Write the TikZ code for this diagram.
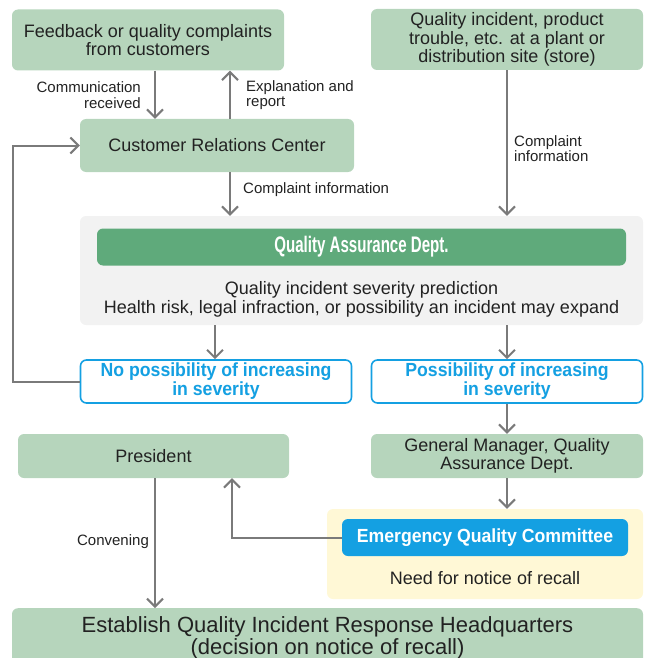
\documentclass[tikz,border=0pt]{standalone}
\usepackage{fontspec}
\setmainfont{Liberation Sans}
\newfontfamily\condfont[FakeStretch=0.67]{Liberation Sans}
\newfontfamily\semicond[FakeStretch=0.93]{Liberation Sans}
\usetikzlibrary{arrows.meta}
\definecolor{lgreen}{HTML}{B6D5BC}
\definecolor{dgreen}{HTML}{5FAA7B}
\definecolor{panelgray}{HTML}{F2F2F2}
\definecolor{qblue}{HTML}{14A0E2}
\definecolor{pyellow}{HTML}{FFF8D6}
\definecolor{arrgray}{HTML}{7A7A7A}
\definecolor{txt}{HTML}{222222}
\tikzset{
  gbox/.style={fill=lgreen, rounded corners=6pt, inner sep=0pt, align=center, text=txt, font=\fontsize{18}{18.5}\selectfont},
  bluebox/.style={draw=qblue, line width=1.6pt, fill=white, rounded corners=6pt, inner sep=0pt, align=center, text=qblue, font=\semicond\bfseries\fontsize{19}{19}\selectfont},
  panel/.style={rounded corners=6pt, inner sep=0pt},
  lbl/.style={inner sep=0pt, text=txt, font=\fontsize{15}{15.5}\selectfont},
  arr/.style={draw=arrgray, line width=2pt, -{Straight Barb[length=8pt,width=16pt,line width=2pt]}},
}
\begin{document}
\begin{tikzpicture}[x=1pt,y=-1pt]
\useasboundingbox (0,0) rectangle (646,658);
\clip (0,0) rectangle (646,658);
% column coordinates
\coordinate (c1) at (155,0);
\coordinate (c2) at (230,0);
\coordinate (c3) at (507,0);
\coordinate (c4) at (215,0);
\coordinate (c5) at (232,0);
\coordinate (cl) at (13,0);
% boxes
\node[gbox, minimum width=272pt, minimum height=61pt] (fb) at (148,40) {Feedback or quality complaints\\from customers};
\node[gbox, minimum width=272pt, minimum height=61pt] (qi) at (507,39.5) {Quality incident, product\\trouble, etc. at a plant or\\distribution site (store)};
\node[gbox, minimum width=274pt, minimum height=53pt] (crc) at (217,145.5) {Customer Relations Center};
\node[panel, fill=panelgray, minimum width=563pt, minimum height=109pt] (qa) at (361.5,270.5) {};
\node[panel, fill=dgreen, minimum width=529pt, minimum height=37pt, text=white, font=\condfont\bfseries\fontsize{22.5}{22}\selectfont] (qad) at (361.5,247) {Quality Assurance Dept.};
\node[inner sep=0pt, align=center, text=txt, font=\fontsize{18}{19}\selectfont] (qat) at (361.5,299) {Quality incident severity prediction\\Health risk, legal infraction, or possibility an incident may expand};
\node[bluebox, minimum width=271pt, minimum height=43pt] (np) at (216,381.5) {No possibility of increasing\\in severity};
\node[bluebox, minimum width=271pt, minimum height=43pt] (ps) at (507,381.5) {Possibility of increasing\\in severity};
\node[gbox, minimum width=271pt, minimum height=44pt] (pr) at (153.5,456) {President};
\node[gbox, minimum width=272pt, minimum height=44pt] (gm) at (507,456) {General Manager, Quality\\Assurance Dept.};
\node[panel, fill=pyellow, minimum width=316pt, minimum height=90pt] (yp) at (485,554) {};
\node[panel, fill=qblue, minimum width=286pt, minimum height=37pt, text=white, font=\semicond\bfseries\fontsize{19}{19}\selectfont] (eqc) at (485,537.5) {Emergency Quality Committee};
\node[inner sep=0pt, text=txt, font=\fontsize{18}{19}\selectfont] (need) at (485,578) {Need for notice of recall};
\node[gbox, minimum width=631pt, minimum height=70pt, anchor=north] (est) at (327.5,608) {};
\node[inner sep=0pt, align=center, text=txt, font=\fontsize{22}{22}\selectfont] (estt) at (327.5,637.5) {Establish Quality Incident Response Headquarters\\(decision on notice of recall)};
% connectors
\draw[arr] (fb.south -| c1) -- (crc.north -| c1);
\draw[arr] (crc.north -| c2) -- (fb.south -| c2);
\draw[arr] (crc.south -| c2) -- (qa.north -| c2);
\draw[arr] (qi.south -| c3) -- (qa.north -| c3);
\draw[arr] (qa.south -| c4) -- (np.north -| c4);
\draw[arr] (qa.south -| c3) -- (ps.north -| c3);
\draw[arr] (np.west) -- (np.west -| cl) -- (crc.west -| cl) -- (crc.west);
\draw[arr] (ps.south -| c3) -- (gm.north -| c3);
\draw[arr] (gm.south -| c3) -- (yp.north -| c3);
\draw[arr] (eqc.west) -- (eqc.west -| c5) -- (pr.south -| c5);
\draw[arr] (pr.south -| c1) -- (est.north -| c1);
% labels
\node[lbl, align=right, anchor=east] (l1) at (141,95) {Communication\\received};
\node[lbl, align=left, anchor=west] (l2) at (246,95) {Explanation and\\report};
\node[lbl, anchor=west] (l3) at (243,189.5) {Complaint information};
\node[lbl, align=left, anchor=west] (l4) at (514,148.5) {Complaint\\information};
\node[lbl] (l5) at (113,541.5) {Convening};
\end{tikzpicture}
\end{document}
